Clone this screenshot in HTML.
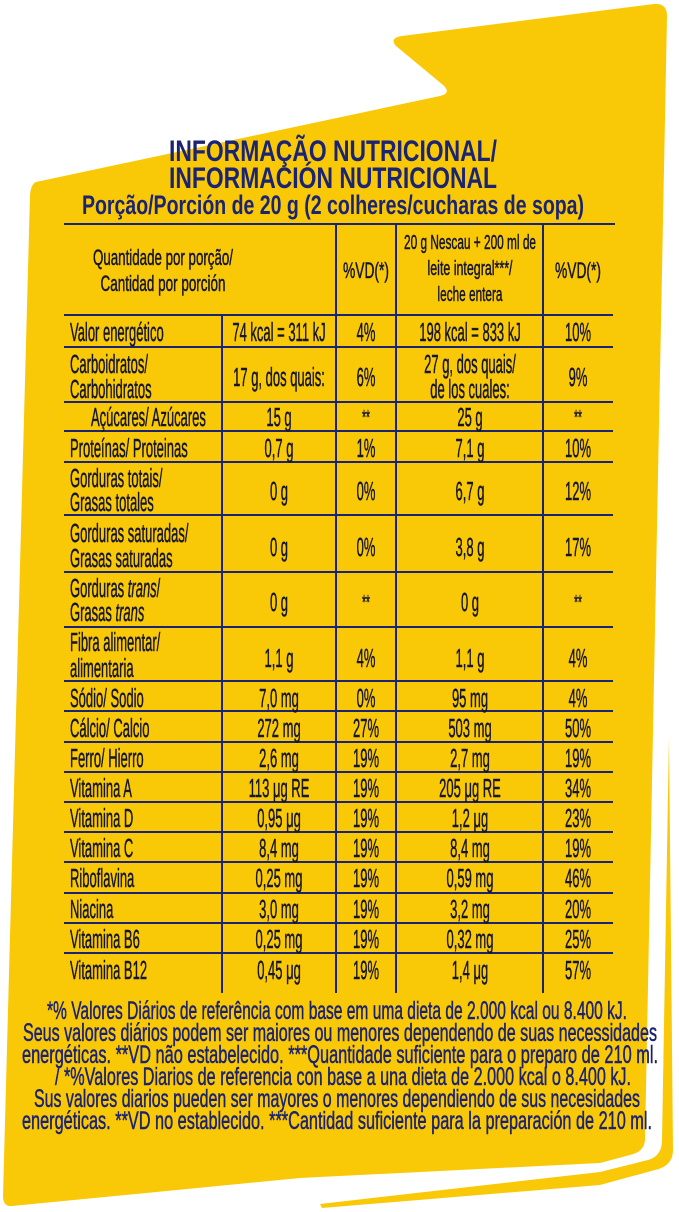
<!DOCTYPE html>
<html><head><meta charset="utf-8"><style>
html,body{margin:0;padding:0;background:#fff;width:679px;height:1212px;overflow:hidden}
svg{display:block}
.t{font-family:"Liberation Sans",sans-serif;fill:#16162a;stroke:#16162a;stroke-width:0.5}
.h{font-family:"Liberation Sans",sans-serif;font-weight:bold;fill:#1b2472}
.f{font-family:"Liberation Sans",sans-serif;fill:#1b2270;stroke:#1b2270;stroke-width:0.5}
</style></head><body>
<svg width="679" height="1212" viewBox="0 0 679 1212" xmlns="http://www.w3.org/2000/svg">
<path d="M36,182 L440,96 Q452,93 443,85 L396,46 Q389,38 402,36 L654,4 Q667,3 667,16 L645,1140 Q644,1152 630,1155 L600,1163 L300,1178 L12,1206 Q3,1207 3,1196 L30,195 Q31,184 36,182 Z" fill="#f9c908"/>
<path d="M669,736 L673,1150 Q673,1166 655,1170 L600,1185 L322,1208 L320,1204 L600,1172 L648,1160 Q662,1156 662,1140 Z" fill="#f9c908"/>
<text class="h" x="333" y="161" font-size="30" text-anchor="middle" textLength="328" lengthAdjust="spacingAndGlyphs">INFORMAÇÃO NUTRICIONAL/</text>
<text class="h" x="333" y="188" font-size="30" text-anchor="middle" textLength="328" lengthAdjust="spacingAndGlyphs">INFORMACIÓN NUTRICIONAL</text>
<text class="h" x="333" y="214" font-size="27" text-anchor="middle" textLength="502" lengthAdjust="spacingAndGlyphs">Porção/Porción de 20 g (2 colheres/cucharas de sopa)</text>
<g stroke="#1b2472" stroke-width="2" fill="none">
<line x1="64" y1="224" x2="615" y2="224"/>
<line x1="64" y1="315" x2="613" y2="315"/>
<line x1="64" y1="347" x2="613" y2="347"/>
<line x1="64" y1="402" x2="613" y2="402"/>
<line x1="64" y1="431" x2="613" y2="431"/>
<line x1="64" y1="462" x2="613" y2="462"/>
<line x1="64" y1="515" x2="613" y2="515"/>
<line x1="64" y1="572" x2="613" y2="572"/>
<line x1="64" y1="627" x2="613" y2="627"/>
<line x1="64" y1="681" x2="613" y2="681"/>
<line x1="64" y1="711" x2="613" y2="711"/>
<line x1="64" y1="742" x2="613" y2="742"/>
<line x1="64" y1="772" x2="613" y2="772"/>
<line x1="64" y1="802" x2="613" y2="802"/>
<line x1="64" y1="832" x2="613" y2="832"/>
<line x1="64" y1="862" x2="613" y2="862"/>
<line x1="64" y1="893" x2="613" y2="893"/>
<line x1="64" y1="923" x2="613" y2="923"/>
<line x1="64" y1="953" x2="613" y2="953"/>
<line x1="222" y1="315" x2="222" y2="993"/>
<line x1="336" y1="224" x2="336" y2="993"/>
<line x1="396" y1="224" x2="396" y2="993"/>
<line x1="543" y1="224" x2="543" y2="993"/>
</g>
<g class="t" font-size="22" text-anchor="middle">
<text x="163" y="265" textLength="140" lengthAdjust="spacingAndGlyphs">Quantidade por porção/</text>
<text x="163" y="291" textLength="125" lengthAdjust="spacingAndGlyphs">Cantidad por porción</text>
<text x="366" y="278" textLength="46" lengthAdjust="spacingAndGlyphs">%VD(*)</text>
<text x="470" y="249" font-size="20" textLength="132" lengthAdjust="spacingAndGlyphs">20 g Nescau + 200 ml de</text>
<text x="470" y="275" font-size="20" textLength="85" lengthAdjust="spacingAndGlyphs">leite integral***/</text>
<text x="470" y="301" font-size="20" textLength="65" lengthAdjust="spacingAndGlyphs">leche entera</text>
<text x="578" y="278" textLength="46" lengthAdjust="spacingAndGlyphs">%VD(*)</text>
</g>
<g class="t" font-size="26">
<g transform="translate(70 0) scale(0.5 1)">
<text x="0" y="341">Valor energético</text>
<text x="0" y="373">Carboidratos/</text>
<text x="0" y="398">Carbohidratos</text>
<text x="42" y="426">Açúcares/ Azúcares</text>
<text x="0" y="457">Proteínas/ Proteinas</text>
<text x="0" y="487">Gorduras totais/</text>
<text x="0" y="511">Grasas totales</text>
<text x="0" y="542">Gorduras saturadas/</text>
<text x="0" y="567">Grasas saturadas</text>
<text x="0" y="597">Gorduras <tspan font-style="italic">trans</tspan>/</text>
<text x="0" y="621">Grasas <tspan font-style="italic">trans</tspan></text>
<text x="0" y="651">Fibra alimentar/</text>
<text x="0" y="677">alimentaria</text>
<text x="0" y="707">Sódio/ Sodio</text>
<text x="0" y="737">Cálcio/ Calcio</text>
<text x="0" y="767">Ferro/ Hierro</text>
<text x="0" y="797">Vitamina A</text>
<text x="0" y="827">Vitamina D</text>
<text x="0" y="857">Vitamina C</text>
<text x="0" y="887">Riboflavina</text>
<text x="0" y="918">Niacina</text>
<text x="0" y="948">Vitamina B6</text>
<text x="0" y="979">Vitamina B12</text>
</g>
<g transform="translate(279 0) scale(0.5 1)" text-anchor="middle">
<text x="0" y="341">74 kcal = 311 kJ</text>
<text x="0" y="386">17 g, dos quais:</text>
<text x="0" y="426">15 g</text>
<text x="0" y="457">0,7 g</text>
<text x="0" y="500">0 g</text>
<text x="0" y="556">0 g</text>
<text x="0" y="611">0 g</text>
<text x="0" y="667">1,1 g</text>
<text x="0" y="707">7,0 mg</text>
<text x="0" y="737">272 mg</text>
<text x="0" y="767">2,6 mg</text>
<text x="0" y="797">113 μg RE</text>
<text x="0" y="827">0,95 μg</text>
<text x="0" y="857">8,4 mg</text>
<text x="0" y="887">0,25 mg</text>
<text x="0" y="918">3,0 mg</text>
<text x="0" y="948">0,25 mg</text>
<text x="0" y="979">0,45 μg</text>
</g>
<g transform="translate(366 0) scale(0.5 1)" text-anchor="middle">
<text x="0" y="341">4%</text>
<text x="0" y="386">6%</text>
<text x="0" y="424" font-size="20">**</text>
<text x="0" y="457">1%</text>
<text x="0" y="500">0%</text>
<text x="0" y="556">0%</text>
<text x="0" y="609" font-size="20">**</text>
<text x="0" y="667">4%</text>
<text x="0" y="707">0%</text>
<text x="0" y="737">27%</text>
<text x="0" y="767">19%</text>
<text x="0" y="797">19%</text>
<text x="0" y="827">19%</text>
<text x="0" y="857">19%</text>
<text x="0" y="887">19%</text>
<text x="0" y="918">19%</text>
<text x="0" y="948">19%</text>
<text x="0" y="979">19%</text>
</g>
<g transform="translate(470 0) scale(0.5 1)" text-anchor="middle">
<text x="0" y="341">198 kcal = 833 kJ</text>
<text x="0" y="373">27 g, dos quais/</text>
<text x="0" y="398">de los cuales:</text>
<text x="0" y="426">25 g</text>
<text x="0" y="457">7,1 g</text>
<text x="0" y="500">6,7 g</text>
<text x="0" y="556">3,8 g</text>
<text x="0" y="611">0 g</text>
<text x="0" y="667">1,1 g</text>
<text x="0" y="707">95 mg</text>
<text x="0" y="737">503 mg</text>
<text x="0" y="767">2,7 mg</text>
<text x="0" y="797">205 μg RE</text>
<text x="0" y="827">1,2 μg</text>
<text x="0" y="857">8,4 mg</text>
<text x="0" y="887">0,59 mg</text>
<text x="0" y="918">3,2 mg</text>
<text x="0" y="948">0,32 mg</text>
<text x="0" y="979">1,4 μg</text>
</g>
<g transform="translate(578 0) scale(0.5 1)" text-anchor="middle">
<text x="0" y="341">10%</text>
<text x="0" y="386">9%</text>
<text x="0" y="424" font-size="20">**</text>
<text x="0" y="457">10%</text>
<text x="0" y="500">12%</text>
<text x="0" y="556">17%</text>
<text x="0" y="609" font-size="20">**</text>
<text x="0" y="667">4%</text>
<text x="0" y="707">4%</text>
<text x="0" y="737">50%</text>
<text x="0" y="767">19%</text>
<text x="0" y="797">34%</text>
<text x="0" y="827">23%</text>
<text x="0" y="857">19%</text>
<text x="0" y="887">46%</text>
<text x="0" y="918">20%</text>
<text x="0" y="948">25%</text>
<text x="0" y="979">57%</text>
</g>
</g>
<g class="f" font-size="25" text-anchor="middle">
<text x="337" y="1019" textLength="580" lengthAdjust="spacingAndGlyphs">*% Valores Diários de referência com base em uma dieta de 2.000 kcal ou 8.400 kJ.</text>
<text x="340" y="1041" textLength="634" lengthAdjust="spacingAndGlyphs">Seus valores diários podem ser maiores ou menores dependendo de suas necessidades</text>
<text x="340" y="1063" textLength="636" lengthAdjust="spacingAndGlyphs">energéticas. **VD não estabelecido. ***Quantidade suficiente para o preparo de 210 ml.</text>
<text x="343" y="1085" textLength="576" lengthAdjust="spacingAndGlyphs">/ *%Valores Diarios de referencia con base a una dieta de 2.000 kcal o 8.400 kJ.</text>
<text x="337" y="1107" textLength="606" lengthAdjust="spacingAndGlyphs">Sus valores diarios pueden ser mayores o menores dependiendo de sus necesidades</text>
<text x="337" y="1129" textLength="630" lengthAdjust="spacingAndGlyphs">energéticas. **VD no establecido. ***Cantidad suficiente para la preparación de 210 ml.</text>
</g>
</svg>
</body></html>
